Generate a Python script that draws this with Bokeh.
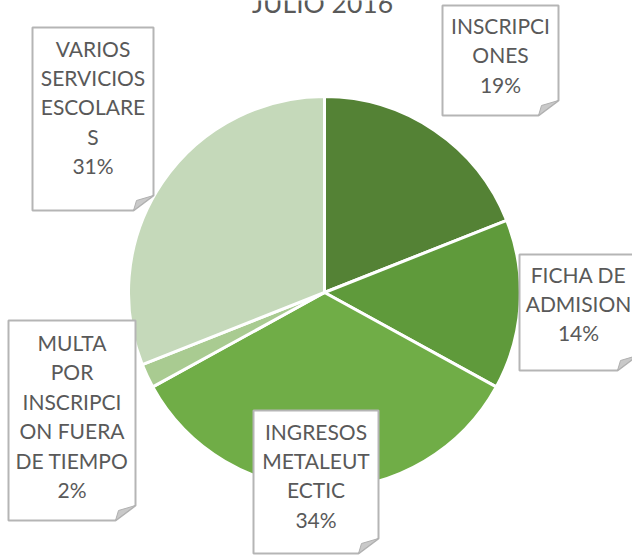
import numpy as np
from bokeh.plotting import figure
from bokeh.models import Range1d
from bokeh.core.properties import value
from bokeh.embed import file_html
from bokeh.resources import INLINE

# ---- data ----
title = "JULIO 2016"
categories = ["INSCRIPCIONES", "FICHA DE ADMISION", "INGRESOS METALEUTECTIC",
              "MULTA POR INSCRIPCION FUERA DE TIEMPO", "VARIOS SERVICIOS ESCOLARES"]
percents = [19, 14, 34, 2, 31]
colors = ["#548235", "#5F9A3B", "#70AD47", "#A9CB91", "#C5D9BA"]
label_lines = [["INSCRIPCI", "ONES"],
               ["FICHA DE", "ADMISION"],
               ["INGRESOS", "METALEUT", "ECTIC"],
               ["MULTA", "POR", "INSCRIPCI", "ON FUERA", "DE TIEMPO"],
               ["VARIOS", "SERVICIOS", "ESCOLARE", "S"]]

# ---- layout (pixel positions, top-left origin) ----
W, H = 632, 555
CX, CY, R = 324, 292, 196
boxes = [(442, 5, 558, 115), (519, 254, 637, 370), (253, 410, 378, 553),
         (8, 320, 135, 520), (32, 27, 153, 210)]
text_x = [500, 578, 315.5, 71.5, 92.5]
first_base = [34.5, 283, 440, 351.5, 57]
step = 29.4
LBL_SIZE, TTL_SIZE = 21, 26.5
SHIFT = 0.45  # svg baseline correction (fraction of font size)
FONT = "Lato"
TXT = "#595959"

def fy(y):
    return H - y

p = figure(width=W, height=H, output_backend="svg", toolbar_location=None,
           x_range=Range1d(0, W), y_range=Range1d(0, H), min_border=0,
           outline_line_color=None, background_fill_color="white",
           border_fill_color="white")
p.axis.visible = False
p.grid.visible = False

# pie wedges (clockwise from 12 o'clock)
frac = np.array(percents, dtype=float) / sum(percents)
cum = np.cumsum(frac)
prev = np.concatenate([[0.0], cum[:-1]])
end_ang = np.pi / 2 - 2 * np.pi * prev
start_ang = np.pi / 2 - 2 * np.pi * cum
p.wedge(x=CX, y=fy(CY), radius=R, start_angle=list(start_ang), end_angle=list(end_ang),
        fill_color=colors, line_color="white", line_width=3)

# callout boxes with folded corner
FW, FH = 20, 15
xs, ys, fxs, fys = [], [], [], []
for (x1, y1, x2, y2) in boxes:
    xs.append([x1, x2, x2, x2 - FW, x1])
    ys.append([fy(y1), fy(y1), fy(y2 - FH), fy(y2), fy(y2)])
    fxs.append([x2 - FW, x2 - FW + 3, x2])
    fys.append([fy(y2), fy(y2 - 10), fy(y2 - FH)])
p.patches(xs, ys, fill_color="white", line_color="#B5B5B5", line_width=2)
p.patches(fxs, fys, fill_color="#C9C9C9", line_color="#B0B0B0", line_width=1)

# label texts
tx, ty, tt = [], [], []
for i, lines in enumerate(label_lines):
    all_lines = lines + [f"{percents[i]}%"]
    for j, s in enumerate(all_lines):
        tx.append(text_x[i])
        ty.append(fy(first_base[i] + j * step - SHIFT * LBL_SIZE))
        tt.append(s)
p.text(x=tx, y=ty, text=tt, text_font=value(FONT), text_font_size=f"{LBL_SIZE}px",
       text_color=TXT, text_align="center", text_baseline="alphabetic")

# title
p.text(x=[322], y=[fy(14 - SHIFT * TTL_SIZE)], text=[title], text_font=value(FONT),
       text_font_size=f"{TTL_SIZE}px", text_color=TXT, text_align="center",
       text_baseline="alphabetic")

open("out.html", "w").write(file_html(p, INLINE))
